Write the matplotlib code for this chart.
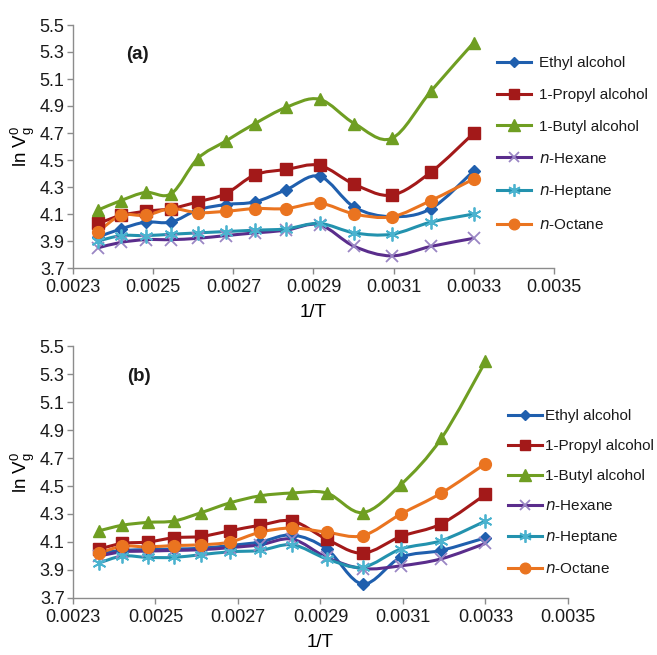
import numpy as np
import matplotlib
matplotlib.use("Agg")
import matplotlib.pyplot as plt
from matplotlib.path import Path
from matplotlib.patches import PathPatch
from matplotlib.lines import Line2D

# 1/T values (K^-1), same in both panels
inv_t = [0.002363, 0.002420, 0.002481, 0.002545, 0.002611, 0.002681, 0.002754,
         0.002832, 0.002915, 0.003002, 0.003095, 0.003193, 0.003300]

names = ["Ethyl alcohol", "1-Propyl alcohol", "1-Butyl alcohol",
         "$\\it{n}$-Hexane", "$\\it{n}$-Heptane", "$\\it{n}$-Octane"]

# panel (a)
ethyl_a = [3.93, 3.99, 4.04, 4.04, 4.13, 4.17, 4.19, 4.28, 4.38, 4.15, 4.08, 4.14, 4.42]
propyl_a = [4.03, 4.09, 4.12, 4.14, 4.19, 4.25, 4.39, 4.43, 4.46, 4.32, 4.24, 4.41, 4.70]
butyl_a = [4.13, 4.20, 4.26, 4.25, 4.51, 4.64, 4.77, 4.89, 4.95, 4.77, 4.66, 5.01, 5.37]
hexane_a = [3.85, 3.89, 3.91, 3.91, 3.92, 3.94, 3.96, 3.98, 4.02, 3.86, 3.79, 3.86, 3.92]
heptane_a = [3.90, 3.94, 3.94, 3.95, 3.96, 3.97, 3.98, 3.99, 4.03, 3.96, 3.95, 4.04, 4.10]
octane_a = [3.97, 4.09, 4.09, 4.14, 4.11, 4.12, 4.14, 4.14, 4.18, 4.10, 4.08, 4.20, 4.36]

# panel (b)
ethyl_b = [4.02, 4.04, 4.045, 4.05, 4.055, 4.075, 4.10, 4.15, 4.05, 3.80, 3.99, 4.04, 4.13]
propyl_b = [4.05, 4.09, 4.10, 4.13, 4.14, 4.18, 4.22, 4.25, 4.12, 4.02, 4.14, 4.23, 4.44]
butyl_b = [4.18, 4.22, 4.24, 4.25, 4.31, 4.38, 4.43, 4.45, 4.45, 4.31, 4.51, 4.84, 5.39]
hexane_b = [4.00, 4.03, 4.035, 4.04, 4.045, 4.06, 4.08, 4.12, 3.99, 3.91, 3.93, 3.98, 4.09]
heptane_b = [3.95, 4.00, 3.99, 3.99, 4.01, 4.03, 4.04, 4.08, 3.98, 3.92, 4.05, 4.11, 4.25]
octane_b = [4.02, 4.07, 4.065, 4.075, 4.08, 4.10, 4.17, 4.20, 4.17, 4.145, 4.30, 4.45, 4.66]

x_ticks = [0.0023, 0.0025, 0.0027, 0.0029, 0.0031, 0.0033, 0.0035]
y_ticks = [3.7, 3.9, 4.1, 4.3, 4.5, 4.7, 4.9, 5.1, 5.3, 5.5]

plt.rcParams.update({
    "font.family": ["Liberation Sans", "DejaVu Sans"],
    "mathtext.default": "regular",
    "text.color": "#1a1a1a",
})

styles = [
    dict(color="#1f5fae", marker="D", ms=6, mfc="#1f5fae", mec="#1f5fae"),
    dict(color="#a31919", marker="s", ms=8, mfc="#a31919", mec="#a31919"),
    dict(color="#6f9e22", marker="^", ms=9, mfc="#6f9e22", mec="#6f9e22"),
    dict(color="#5a2d8c", marker="x", ms=8, mfc="none", mec="#9a86c4", mew=1.3),
    dict(color="#2392ae", marker=(6, 2, 0), ms=10, mfc="none", mec="#4bb3cf", mew=1.3),
    dict(color="#ea7420", marker="o", ms=8.5, mfc="#ea7420", mec="#ea7420"),
]


def smooth_path(x, y):
    # cubic Bezier through the points (Catmull-Rom style, like Excel smoothed lines)
    pts = np.column_stack([x, y])
    verts = [pts[0]]
    codes = [Path.MOVETO]
    n = len(pts)
    for i in range(n - 1):
        p0 = pts[max(i - 1, 0)]
        p1 = pts[i]
        p2 = pts[i + 1]
        p3 = pts[min(i + 2, n - 1)]
        verts += [p1 + (p2 - p0) / 6, p2 - (p3 - p1) / 6, p2]
        codes += [Path.CURVE4] * 3
    return Path(verts, codes)


def draw_panel(ax, series, tag, leg_anchor, leg_spacing, leg_pad, ax_w):
    for vals, st in zip(series, styles):
        patch = PathPatch(smooth_path(np.array(inv_t), np.array(vals)),
                          facecolor="none", edgecolor=st["color"], lw=2.2, zorder=2)
        ax.add_patch(patch)
        ax.plot(inv_t, vals, linestyle="none", marker=st["marker"], ms=st["ms"],
                mfc=st["mfc"], mec=st["mec"], mew=st.get("mew", 1.0), zorder=3)
    ax.set_xlim(0.0023, 0.0035)
    ax.set_ylim(3.7, 5.5)
    ax.set_xticks(x_ticks)
    ax.set_yticks(y_ticks)
    ax.set_xticklabels([f"{v:.4f}" for v in x_ticks])
    ax.set_yticklabels([f"{v:.1f}" for v in y_ticks])
    for s in ["top", "right"]:
        ax.spines[s].set_visible(False)
    for s in ["left", "bottom"]:
        ax.spines[s].set_color("#8c8c8c")
        ax.spines[s].set_linewidth(1.0)
    ax.tick_params(direction="out", length=4, width=1.0, color="#8c8c8c",
                   labelsize=13, labelcolor="#1a1a1a", pad=2)
    ax.tick_params(axis="x", pad=4)
    ax.set_xlabel("1/T", fontsize=13.5, labelpad=6)
    ax.set_ylabel("ln V$_g^0$", fontsize=13.5)
    ax.yaxis.set_label_coords(-36 / ax_w, 0.5)
    ax.text(0.00246, 5.28, tag, fontsize=13.5, fontweight="bold",
            ha="center", va="center")

    handles = [Line2D([], [], color=st["color"], lw=2.2, marker=st["marker"],
                      ms=st["ms"] * 0.9, mfc=st["mfc"], mec=st["mec"],
                      mew=st.get("mew", 1.0)) for st in styles]
    ax.legend(handles, names, loc="upper left", bbox_to_anchor=leg_anchor,
              bbox_transform=ax.figure.transFigure, frameon=False, fontsize=11,
              handlelength=2.2, handletextpad=leg_pad, labelspacing=leg_spacing,
              borderpad=0, borderaxespad=0, markerscale=1.0)


fig = plt.figure(figsize=(6.57, 6.55), dpi=100)
ax_a = fig.add_axes([73 / 657, 1 - 268 / 655, 481 / 657, 243 / 655])
ax_b = fig.add_axes([73 / 657, 1 - 598 / 655, 495 / 657, 252 / 655])

draw_panel(ax_a, [ethyl_a, propyl_a, butyl_a, hexane_a, heptane_a, octane_a],
           "(a)", (497 / 657, 1 - 56 / 655), 1.17, 0.55, 481)
draw_panel(ax_b, [ethyl_b, propyl_b, butyl_b, hexane_b, heptane_b, octane_b],
           "(b)", (508 / 657, 1 - 409 / 655), 1.05, 0.25, 495)

fig.savefig("out.png", dpi=100)
